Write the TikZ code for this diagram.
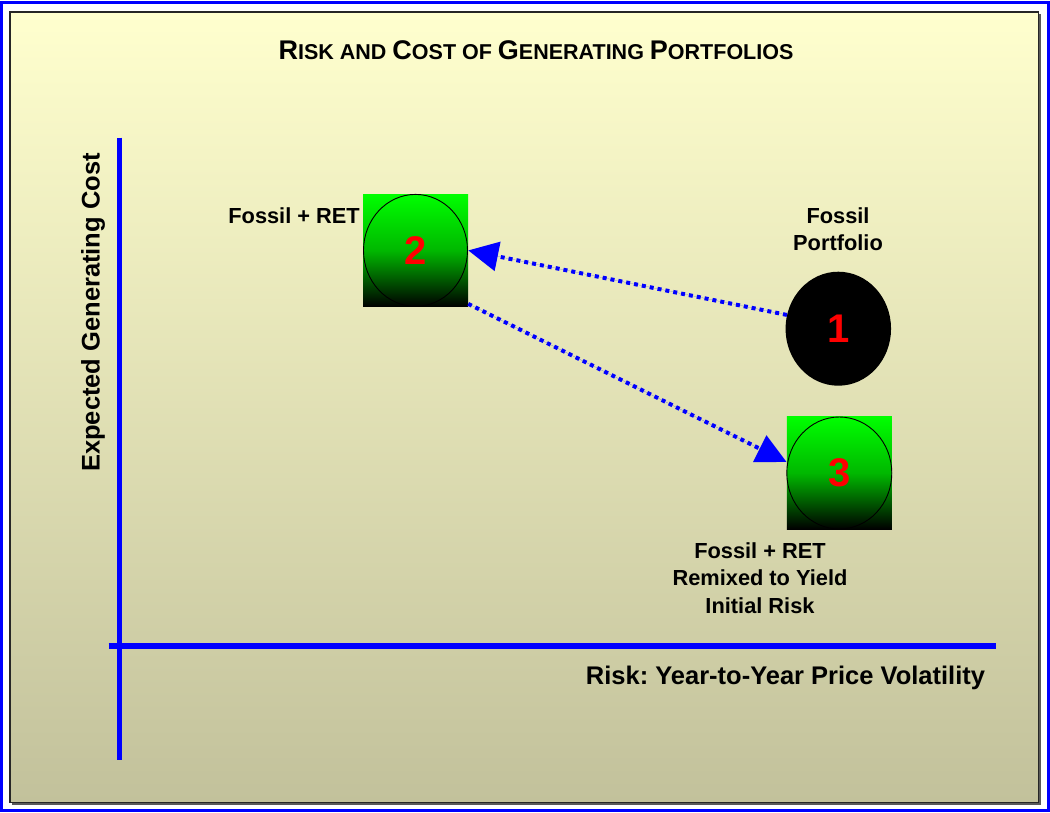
\documentclass[tikz,border=0pt]{standalone}
\usepackage{fontspec}
\setmainfont{Liberation Sans}
\frenchspacing
\usetikzlibrary{arrows.meta,calc,shapes.geometric}
\definecolor{bgtop}{RGB}{255,255,206}
\definecolor{bgbot}{RGB}{194,193,155}
\definecolor{axisblue}{RGB}{0,0,255}
\newcommand\tbig[1]{{\fontsize{27}{30}\selectfont #1}}
\newcommand\tsml[1]{{\fontsize{21.5}{30}\selectfont #1}}
\tikzset{
  lbl/.style={font=\fontsize{21.8}{27.5}\selectfont\bfseries, align=center, inner sep=0pt},
  axlbl/.style={font=\fontsize{25.5}{30}\selectfont\bfseries, inner sep=0pt},
  greenbox/.style={rectangle, minimum width=105pt, minimum height=112.5pt, inner sep=0pt,
    top color=green, bottom color=black, middle color=green!72!black,
    font=\fontsize{40}{40}\selectfont\bfseries, text=red},
  blackdot/.style={ellipse, minimum width=105.5pt, minimum height=114pt, inner sep=0pt,
    fill=black, font=\fontsize{40}{40}\selectfont\bfseries, text=red},
  axisline/.style={draw=axisblue},
  flow/.style={draw=axisblue, line width=4pt, dash pattern=on 4pt off 4pt,
    -{Triangle[length=30pt,width=29pt]}, fill=axisblue},
}
\begin{document}
\begin{tikzpicture}[x=1pt,y=-1pt]
\useasboundingbox (0,0) rectangle (1050,812);
\fill[white] (0,0) rectangle (1050,812);
% outer blue frame
\draw[axisblue, line width=3pt] (1.5,2.5) rectangle (1048.5,810.2);
% panel with shadow
\fill[gray!70!black] (12,14) rectangle (1040.5,804.5);
\shade[top color=bgtop, bottom color=bgbot] (10,12) rectangle (1038.5,802.5);
\draw[black!85, line width=1.3pt] (1038.5,802.5) -- (10,802.5) -- (10,12) -- (1038.5,12) -- cycle;
% title
\node[inner sep=0pt, font=\bfseries] (title) at (536,50)
  {\tbig{R}\tsml{ISK AND }\tbig{C}\tsml{OST OF }\tbig{G}\tsml{ENERATING }\tbig{P}\tsml{ORTFOLIOS}};
% axes
\coordinate (ytop) at (119.7,137.5);
\coordinate (ybot) at (119.7,760);
\coordinate (xl) at (108.5,645.7);
\coordinate (xr) at (996,645.7);
\draw[axisline, line width=4.7pt] (ytop) -- (ybot);
\draw[axisline, line width=6pt] (xl) -- (xr);
\node[axlbl, rotate=90] (ylab) at (93,312.5) {Expected Generating Cost};
\node[axlbl] (xlab) at (785.5,678) {Risk: Year-to-Year Price Volatility};
% portfolio nodes
\node[greenbox] (n2) at (415.5,250.4) {2};
\draw[black, line width=0.9pt] (n2.center) ellipse [x radius=52, y radius=56];
\node[greenbox] (n3) at (839.3,473) {3};
\draw[black, line width=0.9pt] (n3.center) ellipse [x radius=52.5, y radius=56];
\node[blackdot] (n1) at (838.3,328.7) {1};
% labels
\node[lbl, anchor=east] (lab2) at (360,216) {Fossil + RET};
\node[lbl] (lab1) at (838,229) {Fossil\\Portfolio};
\node[lbl] (lab3) at (760,578) {Fossil + RET\\Remixed to Yield\\Initial Risk};
% arrows
\draw[flow] (n1.165) -- (n2.east);
\draw[flow] ($(n2.south east)+(0,-3)$) -- ($(n3.west)+(0,-11)$);
\end{tikzpicture}
\end{document}
